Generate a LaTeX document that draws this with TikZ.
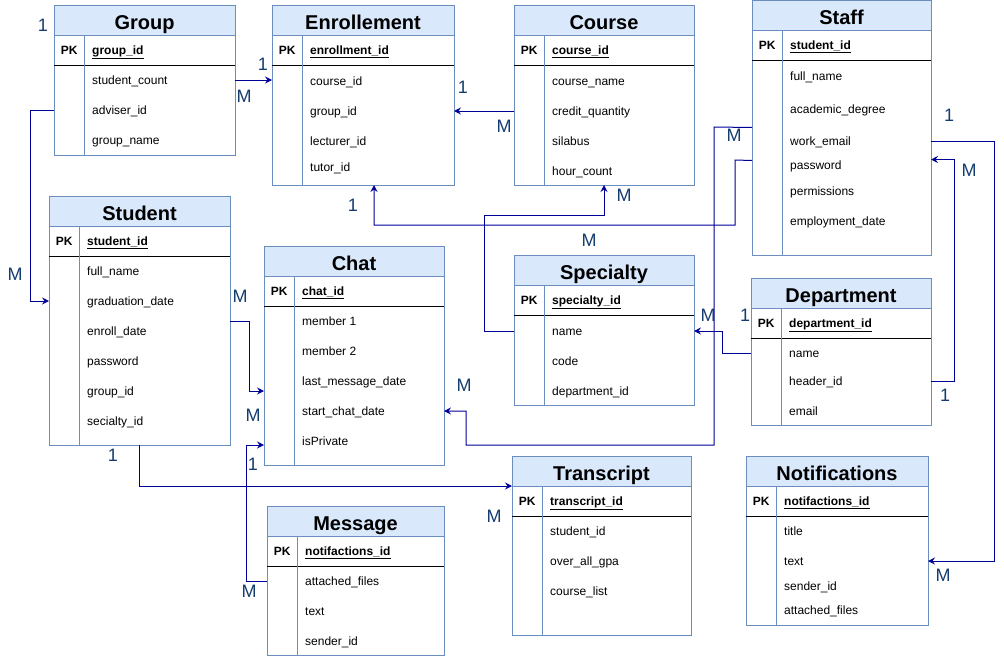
\documentclass[tikz,border=0pt]{standalone}
\usepackage{fontspec}
\setmainfont{Liberation Sans}
\usetikzlibrary{positioning,arrows.meta,calc}
\definecolor{tblfill}{RGB}{218,232,252}
\definecolor{tbledge}{RGB}{108,142,191}
\definecolor{relline}{RGB}{0,0,153}
\definecolor{multtext}{RGB}{20,60,110}
\tikzset{
  tblframe/.style={draw=tbledge, fill=white, line width=0.9pt, inner sep=0pt, outer sep=0pt},
  tblhead/.style={draw=tbledge, fill=tblfill, line width=0.9pt, minimum height=30pt,
    text height=18pt, text depth=0pt, inner sep=0pt, outer sep=0pt,
    font=\bfseries\fontsize{20}{24}\selectfont},
  pkmark/.style={minimum width=30pt, inner sep=0pt, anchor=base west,
    font=\bfseries\fontsize{12}{14}\selectfont},
  keyname/.style={inner sep=0pt, anchor=base west, font=\bfseries\fontsize{12}{14}\selectfont},
  attr/.style={inner sep=0pt, anchor=base west, text height=8.6pt, text depth=0pt,
    font=\fontsize{12}{14}\selectfont},
  keyline/.style={draw=black, line width=0.9pt},
  divline/.style={draw=tbledge, line width=0.9pt},
  rel/.style={-{Stealth[length=7pt,width=7pt,inset=2.5pt]}, line width=1pt, draw=relline},
  mult/.style={inner sep=0pt, text=multtext, font=\fontsize{18}{20}\selectfont},
}
% name, left, top, width, height, title, key, rows (y/text)
\newcommand{\ertable}[8]{%
  \node[tblframe, minimum width=#4pt, minimum height=#5pt, anchor=north west] (#1) at (#2,#3) {};
  \node[tblhead, minimum width=#4pt, anchor=north west] (#1-h) at (#1.north west) {#6};
  \node[pkmark] (#1-pk) at (#2,#3+49.3) {PK};
  \node[keyname] (#1-k) at (#2+38,#3+49.3) {\underline{#7}};
  \draw[keyline] (#2,#3+60) -- (#2+#4,#3+60);
  \draw[divline] (#2+30,#3+30) -- (#2+30,#3+#5);
  \foreach \yy/\txt [count=\i] in {#8}
    \node[attr] (#1-\i) at (#2+38,\yy+4.3) {\txt};
}

\begin{document}
\begin{tikzpicture}[x=1pt, y=-1pt]
  \useasboundingbox (0,0) rectangle (1004,656);
  \ertable{group}{54}{5}{181}{150}{Group}{group\_id}{80/student\_count, 110/adviser\_id, 140/group\_name}
  \ertable{enr}{272}{5}{182}{180}{Enrollement}{enrollment\_id}{81/course\_id, 111/group\_id, 141/lecturer\_id, 167/tutor\_id}
  \ertable{course}{514}{5}{180}{180}{Course}{course\_id}{81/course\_name, 111/credit\_quantity, 141/silabus, 171/hour\_count}
  \ertable{staff}{752}{0.5}{179}{255}{Staff}{student\_id}{76/full\_name, 109/academic\_degree, 141/work\_email, 165/password, 191/permissions, 221/employment\_date}
  \ertable{student}{49}{196}{181}{249}{Student}{student\_id}{271/full\_name, 301/graduation\_date, 331/enroll\_date, 361/password, 391/group\_id, 421/secialty\_id}
  \ertable{chat}{264}{246}{180}{219}{Chat}{chat\_id}{321/member 1, 351/member 2, 381/last\_message\_date, 411/start\_chat\_date, 441/isPrivate}
  \ertable{spec}{514}{255}{180}{150}{Specialty}{specialty\_id}{331/name, 361/code, 391/department\_id}
  \ertable{dept}{751}{278}{180}{147}{Department}{department\_id}{353/name, 381/header\_id, 411/email}
  \ertable{trans}{512}{456}{179}{179}{Transcript}{transcript\_id}{531/student\_id, 561/over\_all\_gpa, 591/course\_list}
  \ertable{notif}{746}{456}{182}{169}{Notifications}{notifactions\_id}{531/title, 561/text, 586/sender\_id, 610/attached\_files}
  \ertable{msg}{267}{506}{177}{149}{Message}{notifactions\_id}{581/attached\_files, 611/text, 641/sender\_id}

  \draw[rel] (group.east |- group-1) -- (enr.west |- group-1);
  \draw[rel] (group.west |- group-2) -- ++(-24,0) |- (student.west |- student-2);
  \draw[rel] (course.west |- course-2) -- (enr.east |- course-2);
  \draw[rel] ([yshift=-127pt]staff.north west) -- (714,127) -- (714,445) -- (466,445) |- (chat.east |- chat-4);
  \draw[rel] ([yshift=-160pt]staff.north west) -- (735,160) -- (735,225) -| ([xshift=11pt]enr.south);
  \draw[rel] (spec.west |- spec-1) -- (484,331) -- (484,215) -| (course.south);
  \draw[rel] (dept.west |- dept-1) -- (722,353) |- (spec.east |- spec-1);
  \draw[rel] (dept.east |- dept-2) -- (954,381) |- ([yshift=-159pt]staff.north east);
  \draw[rel] (staff.east |- staff-3) -- (994,141) |- (notif.east |- notif-2);
  \draw[rel] ([yshift=-125pt]student.north east) -- (249,321) |- ([yshift=-145pt]chat.north west);
  \draw[rel] (msg.west |- msg-1) -- (246,581) |- ([yshift=-199pt]chat.north west);
  \draw[rel] (student.south) |- (trans-h.south west);

  \node[mult] (ge-1) at (263,64) {1}; \node[mult] (ge-m) at (244,96) {M};
  \node[mult] (gs-1) at (43,25) {1}; \node[mult] (gs-m) at (15,274) {M};
  \node[mult] (ce-1) at (463,87) {1}; \node[mult] (ce-m) at (504,126) {M};
  \node[mult] (sc-m) at (734,135) {M}; \node[mult] (sc-n) at (464,385) {M};
  \node[mult] (se-1) at (353,205) {1}; \node[mult] (se-m) at (589,240) {M};
  \node[mult] (pc-m) at (624,195) {M};
  \node[mult] (dp-m) at (708,315) {M}; \node[mult] (dp-1) at (745,315) {1};
  \node[mult] (ds-m) at (969,170) {M}; \node[mult] (ds-1) at (945,395) {1};
  \node[mult] (sn-1) at (949,115) {1}; \node[mult] (sn-m) at (943,575) {M};
  \node[mult] (stc-m) at (240,296) {M}; \node[mult] (stc-n) at (253,415) {M};
  \node[mult] (mc-1) at (253,464) {1}; \node[mult] (mc-m) at (249,591) {M};
  \node[mult] (st-1) at (113,455) {1}; \node[mult] (st-m) at (494,516) {M};
\end{tikzpicture}
\end{document}
